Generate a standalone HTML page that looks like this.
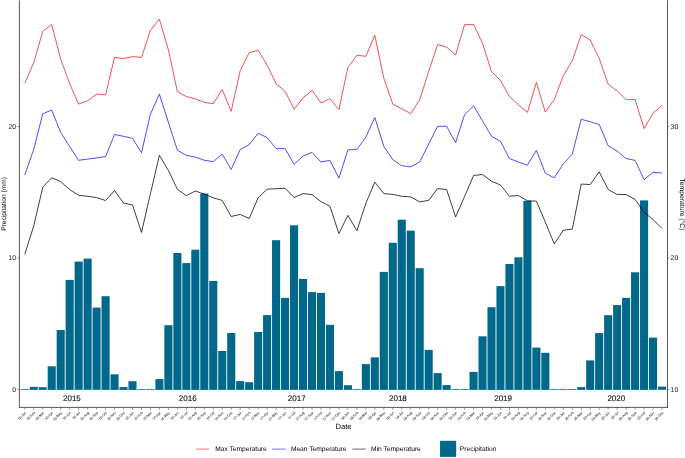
<!DOCTYPE html>
<html><head><meta charset="utf-8"><title>Precipitation and Temperature</title>
<style>
html,body{margin:0;padding:0;background:#fff}
svg{display:block;will-change:transform}
text{font-family:"Liberation Sans",Arial,sans-serif;text-rendering:geometricPrecision}
</style></head><body>
<svg width="685" height="458" viewBox="0 0 685 458">
<rect width="685" height="458" fill="#fff"/>

<g fill="#00688B">
<rect x="20.76" y="389.1" width="8.08" height="0.8"/>
<rect x="29.73" y="386.9" width="8.08" height="3.0"/>
<rect x="38.71" y="387.2" width="8.08" height="2.7"/>
<rect x="47.68" y="366.3" width="8.08" height="23.6"/>
<rect x="56.66" y="330.0" width="8.08" height="59.9"/>
<rect x="65.63" y="279.9" width="8.08" height="110.0"/>
<rect x="74.61" y="261.6" width="8.08" height="128.2"/>
<rect x="83.58" y="258.6" width="8.08" height="131.2"/>
<rect x="92.56" y="307.6" width="8.08" height="82.2"/>
<rect x="101.53" y="296.2" width="8.08" height="93.7"/>
<rect x="110.51" y="374.3" width="8.08" height="15.6"/>
<rect x="119.48" y="387.1" width="8.08" height="2.8"/>
<rect x="128.46" y="381.2" width="8.08" height="8.7"/>
<rect x="137.44" y="389.1" width="8.08" height="0.8"/>
<rect x="146.41" y="389.1" width="8.08" height="0.8"/>
<rect x="155.39" y="379.1" width="8.08" height="10.8"/>
<rect x="164.36" y="325.2" width="8.08" height="64.7"/>
<rect x="173.34" y="253.0" width="8.08" height="136.9"/>
<rect x="182.31" y="263.1" width="8.08" height="126.8"/>
<rect x="191.29" y="249.7" width="8.08" height="140.2"/>
<rect x="200.26" y="193.6" width="8.08" height="196.3"/>
<rect x="209.24" y="280.9" width="8.08" height="109.0"/>
<rect x="218.21" y="351.0" width="8.08" height="38.9"/>
<rect x="227.19" y="333.0" width="8.08" height="56.9"/>
<rect x="236.16" y="381.1" width="8.08" height="8.8"/>
<rect x="245.14" y="382.2" width="8.08" height="7.7"/>
<rect x="254.11" y="332.0" width="8.08" height="57.9"/>
<rect x="263.08" y="315.1" width="8.08" height="74.8"/>
<rect x="272.06" y="240.2" width="8.08" height="149.7"/>
<rect x="281.03" y="297.9" width="8.08" height="92.0"/>
<rect x="290.01" y="225.3" width="8.08" height="164.6"/>
<rect x="298.98" y="278.9" width="8.08" height="111.0"/>
<rect x="307.96" y="292.1" width="8.08" height="97.8"/>
<rect x="316.94" y="292.9" width="8.08" height="97.0"/>
<rect x="325.91" y="324.8" width="8.08" height="65.1"/>
<rect x="334.88" y="371.1" width="8.08" height="18.8"/>
<rect x="343.86" y="385.2" width="8.08" height="4.7"/>
<rect x="352.83" y="389.1" width="8.08" height="0.8"/>
<rect x="361.81" y="364.1" width="8.08" height="25.8"/>
<rect x="370.78" y="357.4" width="8.08" height="32.5"/>
<rect x="379.76" y="271.9" width="8.08" height="118.0"/>
<rect x="388.73" y="242.8" width="8.08" height="147.1"/>
<rect x="397.71" y="219.7" width="8.08" height="170.2"/>
<rect x="406.69" y="230.6" width="8.08" height="159.3"/>
<rect x="415.66" y="268.2" width="8.08" height="121.7"/>
<rect x="424.63" y="349.9" width="8.08" height="40.0"/>
<rect x="433.61" y="373.1" width="8.08" height="16.8"/>
<rect x="442.58" y="385.1" width="8.08" height="4.8"/>
<rect x="451.56" y="389.1" width="8.08" height="0.8"/>
<rect x="460.53" y="389.1" width="8.08" height="0.8"/>
<rect x="469.51" y="371.9" width="8.08" height="18.0"/>
<rect x="478.48" y="336.3" width="8.08" height="53.6"/>
<rect x="487.46" y="307.2" width="8.08" height="82.7"/>
<rect x="496.43" y="286.1" width="8.08" height="103.8"/>
<rect x="505.41" y="264.0" width="8.08" height="125.9"/>
<rect x="514.38" y="257.3" width="8.08" height="132.6"/>
<rect x="523.36" y="200.8" width="8.08" height="189.1"/>
<rect x="532.34" y="347.6" width="8.08" height="42.2"/>
<rect x="541.31" y="352.8" width="8.08" height="37.1"/>
<rect x="550.28" y="389.1" width="8.08" height="0.8"/>
<rect x="559.26" y="389.1" width="8.08" height="0.8"/>
<rect x="568.24" y="389.1" width="8.08" height="0.8"/>
<rect x="577.21" y="387.1" width="8.08" height="2.8"/>
<rect x="586.18" y="360.4" width="8.08" height="29.5"/>
<rect x="595.16" y="333.1" width="8.08" height="56.8"/>
<rect x="604.13" y="315.2" width="8.08" height="74.7"/>
<rect x="613.11" y="305.1" width="8.08" height="84.8"/>
<rect x="622.08" y="297.9" width="8.08" height="92.0"/>
<rect x="631.06" y="272.3" width="8.08" height="117.6"/>
<rect x="640.03" y="200.4" width="8.08" height="189.5"/>
<rect x="649.01" y="337.6" width="8.08" height="52.2"/>
<rect x="657.99" y="386.6" width="8.08" height="3.2"/>
</g>
<polyline points="24.8,254.3 33.8,225.7 42.8,187.1 51.7,177.7 60.7,181.6 69.7,189.6 78.6,195.3 87.6,196.3 96.6,197.6 105.6,200.5 114.5,190.5 123.5,203.0 132.5,205.0 141.5,232.4 150.4,193.8 159.4,155.3 168.4,170.4 177.4,189.3 186.3,195.6 195.3,191.0 204.3,194.1 213.3,197.9 222.2,200.4 231.2,216.5 240.2,214.4 249.2,218.6 258.1,197.8 267.1,189.2 276.1,188.7 285.1,188.3 294.1,197.5 303.0,193.6 312.0,194.6 321.0,201.6 329.9,206.1 338.9,233.6 347.9,215.3 356.9,230.7 365.9,203.3 374.8,182.1 383.8,193.6 392.8,194.4 401.8,196.3 410.7,196.9 419.7,201.9 428.7,200.3 437.6,188.6 446.6,189.5 455.6,217.0 464.6,196.4 473.6,175.5 482.5,174.5 491.5,181.3 500.5,185.0 509.4,196.3 518.4,195.5 527.4,200.8 536.4,201.1 545.3,222.2 554.3,243.9 563.3,230.3 572.3,229.1 581.2,184.1 590.2,184.5 599.2,171.8 608.2,189.5 617.1,194.5 626.1,194.5 635.1,199.4 644.1,212.4 653.0,219.5 662.0,228.5" fill="none" stroke="#000000" stroke-width="0.75" stroke-linejoin="round"/>
<polyline points="24.8,174.9 33.8,149.1 42.8,113.7 51.7,110.1 60.7,132.5 69.7,146.6 78.6,160.3 87.6,159.1 96.6,157.9 105.6,156.6 114.5,134.5 123.5,136.3 132.5,138.3 141.5,152.8 150.4,114.2 159.4,94.1 168.4,122.4 177.4,150.3 186.3,155.3 195.3,157.1 204.3,160.3 213.3,161.6 222.2,154.1 231.2,169.4 240.2,149.6 249.2,144.6 258.1,133.3 267.1,137.5 276.1,148.6 285.1,148.6 294.1,164.3 303.0,156.1 312.0,152.4 321.0,162.1 329.9,160.3 338.9,178.2 347.9,149.9 356.9,149.4 365.9,137.0 374.8,117.5 383.8,146.3 392.8,159.6 401.8,165.7 410.7,166.9 419.7,161.9 428.7,144.1 437.6,126.3 446.6,126.3 455.6,142.6 464.6,114.6 473.6,105.8 482.5,120.8 491.5,136.3 500.5,141.3 509.4,158.6 518.4,161.9 527.4,165.2 536.4,150.3 545.3,173.2 554.3,177.9 563.3,163.8 572.3,154.1 581.2,119.3 590.2,121.7 599.2,124.5 608.2,145.8 617.1,151.1 626.1,158.5 635.1,160.4 644.1,179.6 653.0,172.3 662.0,173.1" fill="none" stroke="#1414F0" stroke-width="0.75" stroke-linejoin="round"/>
<polyline points="24.8,83.2 33.8,62.4 42.8,31.3 51.7,24.5 60.7,59.1 69.7,83.8 78.6,104.1 87.6,100.8 96.6,94.1 105.6,94.9 114.5,57.4 123.5,58.6 132.5,56.6 141.5,57.4 150.4,30.3 159.4,19.2 168.4,49.9 177.4,91.6 186.3,96.6 195.3,98.8 204.3,102.4 213.3,103.6 222.2,89.6 231.2,111.3 240.2,70.8 249.2,52.5 258.1,50.3 267.1,65.0 276.1,83.6 285.1,91.3 294.1,109.1 303.0,97.9 312.0,90.4 321.0,102.9 329.9,98.7 338.9,109.6 347.9,67.4 356.9,55.3 365.9,56.3 374.8,35.3 383.8,78.2 392.8,104.1 401.8,108.8 410.7,113.6 419.7,99.9 428.7,71.4 437.6,44.6 446.6,47.0 455.6,54.9 464.6,24.6 473.6,24.6 482.5,43.3 491.5,71.6 500.5,80.5 509.4,96.6 518.4,104.6 527.4,112.4 536.4,82.5 545.3,112.1 554.3,99.6 563.3,75.7 572.3,60.8 581.2,34.5 590.2,40.0 599.2,58.3 608.2,84.3 617.1,90.8 626.1,99.6 635.1,99.6 644.1,128.6 653.0,113.3 662.0,105.3" fill="none" stroke="#F01420" stroke-width="0.75" stroke-linejoin="round"/>
<g stroke="#3a3a3a" stroke-width="0.85" fill="none">
<line x1="19.4" y1="0.4" x2="19.4" y2="407.7"/>
<line x1="667.5" y1="0.4" x2="667.5" y2="407.7"/>
<line x1="19.1" y1="407.4" x2="667.8" y2="407.4"/>
<line x1="17.1" y1="389.4" x2="19.4" y2="389.4" stroke-width="0.5"/>
<line x1="667.5" y1="389.4" x2="669.4" y2="389.4" stroke-width="0.5"/>
<line x1="17.1" y1="257.8" x2="19.4" y2="257.8" stroke-width="0.5"/>
<line x1="667.5" y1="257.8" x2="669.4" y2="257.8" stroke-width="0.5"/>
<line x1="17.1" y1="126.5" x2="19.4" y2="126.5" stroke-width="0.5"/>
<line x1="667.5" y1="126.5" x2="669.4" y2="126.5" stroke-width="0.5"/>
<line x1="24.80" y1="407.4" x2="24.80" y2="409.8" stroke-width="0.5"/>
<line x1="33.77" y1="407.4" x2="33.77" y2="409.8" stroke-width="0.5"/>
<line x1="42.75" y1="407.4" x2="42.75" y2="409.8" stroke-width="0.5"/>
<line x1="51.72" y1="407.4" x2="51.72" y2="409.8" stroke-width="0.5"/>
<line x1="60.70" y1="407.4" x2="60.70" y2="409.8" stroke-width="0.5"/>
<line x1="69.67" y1="407.4" x2="69.67" y2="409.8" stroke-width="0.5"/>
<line x1="78.65" y1="407.4" x2="78.65" y2="409.8" stroke-width="0.5"/>
<line x1="87.62" y1="407.4" x2="87.62" y2="409.8" stroke-width="0.5"/>
<line x1="96.60" y1="407.4" x2="96.60" y2="409.8" stroke-width="0.5"/>
<line x1="105.57" y1="407.4" x2="105.57" y2="409.8" stroke-width="0.5"/>
<line x1="114.55" y1="407.4" x2="114.55" y2="409.8" stroke-width="0.5"/>
<line x1="123.52" y1="407.4" x2="123.52" y2="409.8" stroke-width="0.5"/>
<line x1="132.50" y1="407.4" x2="132.50" y2="409.8" stroke-width="0.5"/>
<line x1="141.47" y1="407.4" x2="141.47" y2="409.8" stroke-width="0.5"/>
<line x1="150.45" y1="407.4" x2="150.45" y2="409.8" stroke-width="0.5"/>
<line x1="159.43" y1="407.4" x2="159.43" y2="409.8" stroke-width="0.5"/>
<line x1="168.40" y1="407.4" x2="168.40" y2="409.8" stroke-width="0.5"/>
<line x1="177.38" y1="407.4" x2="177.38" y2="409.8" stroke-width="0.5"/>
<line x1="186.35" y1="407.4" x2="186.35" y2="409.8" stroke-width="0.5"/>
<line x1="195.33" y1="407.4" x2="195.33" y2="409.8" stroke-width="0.5"/>
<line x1="204.30" y1="407.4" x2="204.30" y2="409.8" stroke-width="0.5"/>
<line x1="213.28" y1="407.4" x2="213.28" y2="409.8" stroke-width="0.5"/>
<line x1="222.25" y1="407.4" x2="222.25" y2="409.8" stroke-width="0.5"/>
<line x1="231.22" y1="407.4" x2="231.22" y2="409.8" stroke-width="0.5"/>
<line x1="240.20" y1="407.4" x2="240.20" y2="409.8" stroke-width="0.5"/>
<line x1="249.18" y1="407.4" x2="249.18" y2="409.8" stroke-width="0.5"/>
<line x1="258.15" y1="407.4" x2="258.15" y2="409.8" stroke-width="0.5"/>
<line x1="267.12" y1="407.4" x2="267.12" y2="409.8" stroke-width="0.5"/>
<line x1="276.10" y1="407.4" x2="276.10" y2="409.8" stroke-width="0.5"/>
<line x1="285.07" y1="407.4" x2="285.07" y2="409.8" stroke-width="0.5"/>
<line x1="294.05" y1="407.4" x2="294.05" y2="409.8" stroke-width="0.5"/>
<line x1="303.02" y1="407.4" x2="303.02" y2="409.8" stroke-width="0.5"/>
<line x1="312.00" y1="407.4" x2="312.00" y2="409.8" stroke-width="0.5"/>
<line x1="320.98" y1="407.4" x2="320.98" y2="409.8" stroke-width="0.5"/>
<line x1="329.95" y1="407.4" x2="329.95" y2="409.8" stroke-width="0.5"/>
<line x1="338.93" y1="407.4" x2="338.93" y2="409.8" stroke-width="0.5"/>
<line x1="347.90" y1="407.4" x2="347.90" y2="409.8" stroke-width="0.5"/>
<line x1="356.88" y1="407.4" x2="356.88" y2="409.8" stroke-width="0.5"/>
<line x1="365.85" y1="407.4" x2="365.85" y2="409.8" stroke-width="0.5"/>
<line x1="374.82" y1="407.4" x2="374.82" y2="409.8" stroke-width="0.5"/>
<line x1="383.80" y1="407.4" x2="383.80" y2="409.8" stroke-width="0.5"/>
<line x1="392.77" y1="407.4" x2="392.77" y2="409.8" stroke-width="0.5"/>
<line x1="401.75" y1="407.4" x2="401.75" y2="409.8" stroke-width="0.5"/>
<line x1="410.73" y1="407.4" x2="410.73" y2="409.8" stroke-width="0.5"/>
<line x1="419.70" y1="407.4" x2="419.70" y2="409.8" stroke-width="0.5"/>
<line x1="428.68" y1="407.4" x2="428.68" y2="409.8" stroke-width="0.5"/>
<line x1="437.65" y1="407.4" x2="437.65" y2="409.8" stroke-width="0.5"/>
<line x1="446.62" y1="407.4" x2="446.62" y2="409.8" stroke-width="0.5"/>
<line x1="455.60" y1="407.4" x2="455.60" y2="409.8" stroke-width="0.5"/>
<line x1="464.57" y1="407.4" x2="464.57" y2="409.8" stroke-width="0.5"/>
<line x1="473.55" y1="407.4" x2="473.55" y2="409.8" stroke-width="0.5"/>
<line x1="482.52" y1="407.4" x2="482.52" y2="409.8" stroke-width="0.5"/>
<line x1="491.50" y1="407.4" x2="491.50" y2="409.8" stroke-width="0.5"/>
<line x1="500.47" y1="407.4" x2="500.47" y2="409.8" stroke-width="0.5"/>
<line x1="509.45" y1="407.4" x2="509.45" y2="409.8" stroke-width="0.5"/>
<line x1="518.42" y1="407.4" x2="518.42" y2="409.8" stroke-width="0.5"/>
<line x1="527.40" y1="407.4" x2="527.40" y2="409.8" stroke-width="0.5"/>
<line x1="536.38" y1="407.4" x2="536.38" y2="409.8" stroke-width="0.5"/>
<line x1="545.35" y1="407.4" x2="545.35" y2="409.8" stroke-width="0.5"/>
<line x1="554.32" y1="407.4" x2="554.32" y2="409.8" stroke-width="0.5"/>
<line x1="563.30" y1="407.4" x2="563.30" y2="409.8" stroke-width="0.5"/>
<line x1="572.27" y1="407.4" x2="572.27" y2="409.8" stroke-width="0.5"/>
<line x1="581.25" y1="407.4" x2="581.25" y2="409.8" stroke-width="0.5"/>
<line x1="590.22" y1="407.4" x2="590.22" y2="409.8" stroke-width="0.5"/>
<line x1="599.20" y1="407.4" x2="599.20" y2="409.8" stroke-width="0.5"/>
<line x1="608.17" y1="407.4" x2="608.17" y2="409.8" stroke-width="0.5"/>
<line x1="617.15" y1="407.4" x2="617.15" y2="409.8" stroke-width="0.5"/>
<line x1="626.12" y1="407.4" x2="626.12" y2="409.8" stroke-width="0.5"/>
<line x1="635.10" y1="407.4" x2="635.10" y2="409.8" stroke-width="0.5"/>
<line x1="644.07" y1="407.4" x2="644.07" y2="409.8" stroke-width="0.5"/>
<line x1="653.05" y1="407.4" x2="653.05" y2="409.8" stroke-width="0.5"/>
<line x1="662.02" y1="407.4" x2="662.02" y2="409.8" stroke-width="0.5"/>
</g>
<g font-size="6.9" fill="#303030" stroke="#303030" stroke-width="0.05">
<text x="16.2" y="391.8" text-anchor="end">0</text>
<text x="16.2" y="260.4" text-anchor="end">10</text>
<text x="16.2" y="128.9" text-anchor="end">20</text>
<text x="670.6" y="391.8">10</text>
<text x="670.6" y="260.4">20</text>
<text x="670.6" y="128.9">30</text>
</g>
<g font-size="3.4" fill="#4D4D4D" stroke="#4D4D4D" stroke-width="0.08" text-anchor="end">
<text transform="translate(26.40,413.0) rotate(-45)">15-Jan</text>
<text transform="translate(35.38,413.0) rotate(-45)">15-Feb</text>
<text transform="translate(44.35,413.0) rotate(-45)">15-Mar</text>
<text transform="translate(53.32,413.0) rotate(-45)">15-Apr</text>
<text transform="translate(62.30,413.0) rotate(-45)">15-May</text>
<text transform="translate(71.27,413.0) rotate(-45)">15-Jun</text>
<text transform="translate(80.25,413.0) rotate(-45)">15-Jul</text>
<text transform="translate(89.22,413.0) rotate(-45)">15-Aug</text>
<text transform="translate(98.20,413.0) rotate(-45)">15-Sep</text>
<text transform="translate(107.17,413.0) rotate(-45)">15-Oct</text>
<text transform="translate(116.15,413.0) rotate(-45)">15-Nov</text>
<text transform="translate(125.12,413.0) rotate(-45)">15-Dec</text>
<text transform="translate(134.10,413.0) rotate(-45)">16-Jan</text>
<text transform="translate(143.07,413.0) rotate(-45)">16-Feb</text>
<text transform="translate(152.05,413.0) rotate(-45)">16-Mar</text>
<text transform="translate(161.03,413.0) rotate(-45)">16-Apr</text>
<text transform="translate(170.00,413.0) rotate(-45)">16-May</text>
<text transform="translate(178.97,413.0) rotate(-45)">16-Jun</text>
<text transform="translate(187.95,413.0) rotate(-45)">16-Jul</text>
<text transform="translate(196.93,413.0) rotate(-45)">16-Aug</text>
<text transform="translate(205.90,413.0) rotate(-45)">16-Sep</text>
<text transform="translate(214.88,413.0) rotate(-45)">16-Oct</text>
<text transform="translate(223.85,413.0) rotate(-45)">16-Nov</text>
<text transform="translate(232.82,413.0) rotate(-45)">16-Dec</text>
<text transform="translate(241.80,413.0) rotate(-45)">17-Jan</text>
<text transform="translate(250.78,413.0) rotate(-45)">17-Feb</text>
<text transform="translate(259.75,413.0) rotate(-45)">17-Mar</text>
<text transform="translate(268.73,413.0) rotate(-45)">17-Apr</text>
<text transform="translate(277.70,413.0) rotate(-45)">17-May</text>
<text transform="translate(286.68,413.0) rotate(-45)">17-Jun</text>
<text transform="translate(295.65,413.0) rotate(-45)">17-Jul</text>
<text transform="translate(304.62,413.0) rotate(-45)">17-Aug</text>
<text transform="translate(313.60,413.0) rotate(-45)">17-Sep</text>
<text transform="translate(322.58,413.0) rotate(-45)">17-Oct</text>
<text transform="translate(331.55,413.0) rotate(-45)">17-Nov</text>
<text transform="translate(340.53,413.0) rotate(-45)">17-Dec</text>
<text transform="translate(349.50,413.0) rotate(-45)">18-Jan</text>
<text transform="translate(358.48,413.0) rotate(-45)">18-Feb</text>
<text transform="translate(367.45,413.0) rotate(-45)">18-Mar</text>
<text transform="translate(376.43,413.0) rotate(-45)">18-Apr</text>
<text transform="translate(385.40,413.0) rotate(-45)">18-May</text>
<text transform="translate(394.38,413.0) rotate(-45)">18-Jun</text>
<text transform="translate(403.35,413.0) rotate(-45)">18-Jul</text>
<text transform="translate(412.33,413.0) rotate(-45)">18-Aug</text>
<text transform="translate(421.30,413.0) rotate(-45)">18-Sep</text>
<text transform="translate(430.28,413.0) rotate(-45)">18-Oct</text>
<text transform="translate(439.25,413.0) rotate(-45)">18-Nov</text>
<text transform="translate(448.23,413.0) rotate(-45)">18-Dec</text>
<text transform="translate(457.20,413.0) rotate(-45)">19-Jan</text>
<text transform="translate(466.18,413.0) rotate(-45)">19-Feb</text>
<text transform="translate(475.15,413.0) rotate(-45)">19-Mar</text>
<text transform="translate(484.12,413.0) rotate(-45)">19-Apr</text>
<text transform="translate(493.10,413.0) rotate(-45)">19-May</text>
<text transform="translate(502.07,413.0) rotate(-45)">19-Jun</text>
<text transform="translate(511.05,413.0) rotate(-45)">19-Jul</text>
<text transform="translate(520.02,413.0) rotate(-45)">19-Aug</text>
<text transform="translate(529.00,413.0) rotate(-45)">19-Sep</text>
<text transform="translate(537.98,413.0) rotate(-45)">19-Oct</text>
<text transform="translate(546.95,413.0) rotate(-45)">19-Nov</text>
<text transform="translate(555.92,413.0) rotate(-45)">19-Dec</text>
<text transform="translate(564.90,413.0) rotate(-45)">20-Jan</text>
<text transform="translate(573.88,413.0) rotate(-45)">20-Feb</text>
<text transform="translate(582.85,413.0) rotate(-45)">20-Mar</text>
<text transform="translate(591.82,413.0) rotate(-45)">20-Apr</text>
<text transform="translate(600.80,413.0) rotate(-45)">20-May</text>
<text transform="translate(609.77,413.0) rotate(-45)">20-Jun</text>
<text transform="translate(618.75,413.0) rotate(-45)">20-Jul</text>
<text transform="translate(627.72,413.0) rotate(-45)">20-Aug</text>
<text transform="translate(636.70,413.0) rotate(-45)">20-Sep</text>
<text transform="translate(645.67,413.0) rotate(-45)">20-Oct</text>
<text transform="translate(654.65,413.0) rotate(-45)">20-Nov</text>
<text transform="translate(663.62,413.0) rotate(-45)">20-Dec</text>
</g>
<g font-size="8" fill="#111" stroke="#111" stroke-width="0.12" text-anchor="middle">
<text x="71.9" y="401.2">2015</text>
<text x="187.7" y="401.2">2016</text>
<text x="296.7" y="401.2">2017</text>
<text x="397.9" y="401.2">2018</text>
<text x="503.1" y="401.2">2019</text>
<text x="616.3" y="401.2">2020</text>
</g>
<g font-size="6.65" fill="#000">
<text x="343.45" y="428.5" text-anchor="middle" font-size="7.6">Date</text>
<text transform="translate(6.3,203.9) rotate(-90)" text-anchor="middle">Precipitation (mm)</text>
<text transform="translate(679.9,204.4) rotate(90)" text-anchor="middle" font-size="6.8">Temperature (°C)</text>
<text x="215.2" y="451.25">Max Temperature</text>
<text x="290.9" y="451.25">Mean Temperature</text>
<text x="371.1" y="451.25">Min Temperature</text>
<text x="459.8" y="451.25">Precipitation</text>
</g>
<g stroke-width="0.6" fill="none">
<line x1="195.8" y1="449.1" x2="209.2" y2="449.1" stroke="#F01420"/>
<line x1="272.2" y1="449.1" x2="285.8" y2="449.1" stroke="#1414F0"/>
<line x1="352.4" y1="449.1" x2="365.7" y2="449.1" stroke="#000"/>
</g>
<rect x="440.05" y="440.8" width="16.1" height="16.1" fill="#00688B"/>
</svg></body></html>
